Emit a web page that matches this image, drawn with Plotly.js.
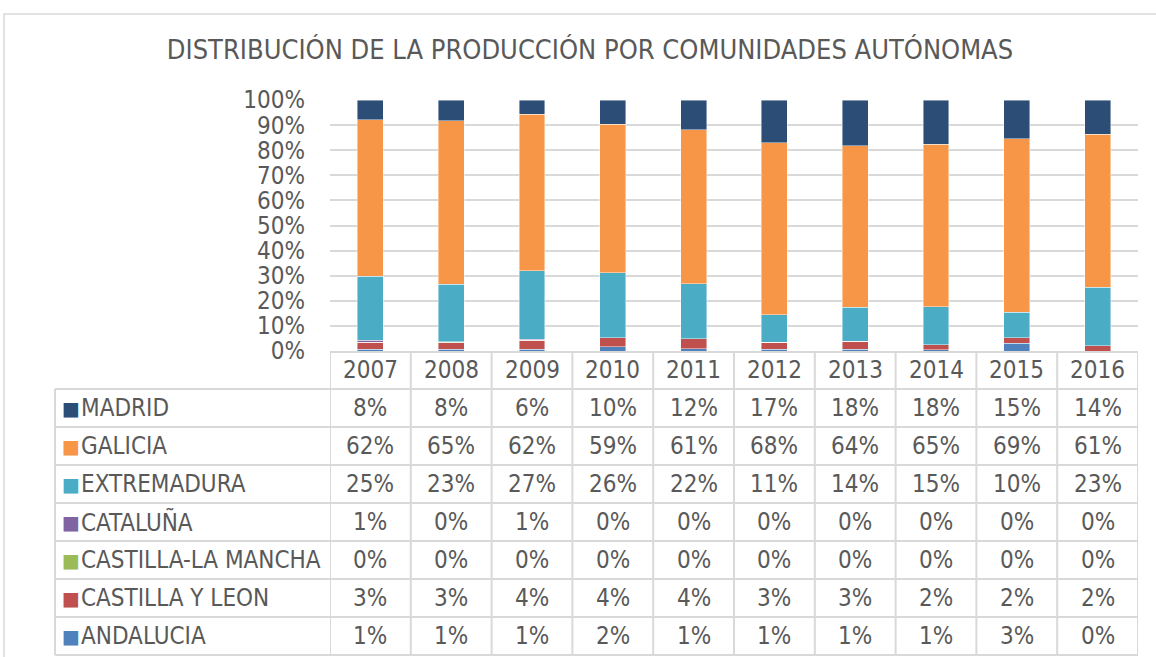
<!DOCTYPE html>
<html>
<head>
<meta charset="utf-8">
<script src="https://cdn.plot.ly/plotly-3.0.1.min.js"></script>
<style>
  html, body { margin: 0; padding: 0; background: #ffffff; }
  #chart { width: 1156px; height: 657px; }
</style>
</head>
<body>
<div id="chart"></div>
<script>
// ---- Data ----
const years = ['2007', '2008', '2009', '2010', '2011', '2012', '2013', '2014', '2015', '2016'];
const seriesNames = ['MADRID', 'GALICIA', 'EXTREMADURA', 'CATALUÑA', 'CASTILLA-LA MANCHA', 'CASTILLA Y LEON', 'ANDALUCIA'];
const madrid      = [7.9, 8.2, 5.6, 9.6, 11.9, 17.1, 18.3, 17.6, 15.4, 13.6];
const galicia     = [62.4, 65.2, 62.4, 59.2, 61.4, 68.4, 64.2, 64.8, 69.2, 61.0];
const extremadura = [25.4, 22.9, 27.25, 26.0, 21.8, 11.0, 13.6, 15.05, 10.1, 23.3];
const cataluna    = [0.8, 0.3, 0.55, 0, 0, 0, 0, 0, 0, 0];
const clm         = [0.1, 0.1, 0, 0, 0, 0, 0, 0, 0, 0];
const cyl         = [2.7, 2.7, 3.6, 3.6, 4.1, 2.9, 3.3, 2.0, 2.3, 2.1];
const andalucia   = [0.7, 0.6, 0.6, 1.6, 0.8, 0.6, 0.6, 0.55, 3.0, 0];
const yTicks = [0, 10, 20, 30, 40, 50, 60, 70, 80, 90, 100];

// ---- Styles ----
const colors = ['#2C4D76', '#F79646', '#4BACC6', '#8064A2', '#9BBB59', '#C0504D', '#4F81BD'];
const seriesValues = [madrid, galicia, extremadura, cataluna, clm, cyl, andalucia];
const FONT = '"DejaVu Sans Condensed", "DejaVu Sans", sans-serif';
const TXT = '#595959';
const GRID = '#D9D9D9';
const W = 1156, H = 657;
const FS = 24;

// layout geometry (pixels)
const xL = 55, xAxisL = 330, xR = 1138, yPlotTop = 100, yAxis = 351, rowH = 38;
const headerBottom = yAxis + rowH;
const py = p => 1 - p / H;   // pixel row -> paper fraction
const px = p => p / W;       // pixel column -> paper fraction

// stacked bars, bottom to top: Andalucia ... Madrid
const traces = [];
for (let i = seriesNames.length - 1; i >= 0; i--) {
  traces.push({
    type: 'bar',
    name: seriesNames[i],
    x: years,
    y: seriesValues[i],
    marker: { color: colors[i], line: { color: 'rgba(255,255,255,0.55)', width: 0.8 } },
    hoverinfo: 'x+y+name'
  });
}

// ---- data table drawn with shapes + annotations ----
const lineStyle = { color: GRID, width: 2 };
const shapes = [];
const annotations = [];
const tableBottom = headerBottom + rowH * seriesNames.length;

// horizontal rules
for (let r = 0; r <= seriesNames.length; r++) {
  const yy = headerBottom + r * rowH;
  shapes.push({ type: 'line', xref: 'paper', yref: 'paper', x0: px(xL), x1: px(xR), y0: py(yy), y1: py(yy), line: lineStyle });
}
// left edge of label column
shapes.push({ type: 'line', xref: 'paper', yref: 'paper', x0: px(xL), x1: px(xL), y0: py(headerBottom), y1: py(tableBottom), line: lineStyle });
// column separators aligned with the category axis
for (let j = 0; j <= years.length; j++) {
  shapes.push({ type: 'line', xref: 'x', yref: 'paper', x0: j - 0.5, x1: j - 0.5, y0: py(yAxis), y1: py(tableBottom), line: lineStyle });
}
// year header (category index positions on the x axis)
years.forEach((y, j) => {
  annotations.push({ xref: 'x', yref: 'paper', x: j, y: py(yAxis + rowH / 2), text: y, showarrow: false,
    xanchor: 'center', yanchor: 'middle', font: { family: FONT, size: FS, color: TXT } });
});
// rows
seriesNames.forEach((name, i) => {
  const cy = py(headerBottom + rowH * i + rowH / 2);
  annotations.push({ xref: 'paper', yref: 'paper', x: px(60), y: cy, text: '■', showarrow: false,
    xanchor: 'left', yanchor: 'middle', font: { family: 'DejaVu Sans, sans-serif', size: 19, color: colors[i] } });
  annotations.push({ xref: 'paper', yref: 'paper', x: px(79), y: cy, text: name, showarrow: false,
    xanchor: 'left', yanchor: 'middle', font: { family: FONT, size: FS, color: TXT } });
  years.forEach((y, j) => {
    annotations.push({ xref: 'x', yref: 'paper', x: j, y: cy, text: Math.round(seriesValues[i][j]) + '%', showarrow: false,
      xanchor: 'center', yanchor: 'middle', font: { family: FONT, size: FS, color: TXT } });
  });
});
// outer chart frame
shapes.push({ type: 'rect', xref: 'paper', yref: 'paper', x0: px(4), x1: 1.01, y0: -0.01, y1: py(14),
  line: { color: GRID, width: 1.5 }, fillcolor: 'rgba(0,0,0,0)', layer: 'below' });

const layout = {
  width: W, height: H,
  margin: { l: 0, r: 0, t: 0, b: 0 },
  paper_bgcolor: '#ffffff',
  plot_bgcolor: '#ffffff',
  showlegend: false,
  barmode: 'stack',
  bargap: 0.68,
  font: { family: FONT, color: TXT },
  title: {
    text: 'DISTRIBUCIÓN DE LA PRODUCCIÓN POR COMUNIDADES AUTÓNOMAS',
    font: { family: FONT, size: 27, color: TXT },
    x: px(590), xanchor: 'center',
    y: py(50), yanchor: 'middle'
  },
  xaxis: {
    domain: [px(xAxisL), px(xR)],
    type: 'category',
    categoryarray: years,
    range: [-0.5, years.length - 0.5],
    autorange: false,
    showticklabels: false,
    ticks: '',
    showgrid: false,
    showline: true, linecolor: GRID, linewidth: 2,
    zeroline: false,
    fixedrange: true
  },
  yaxis: {
    domain: [py(yAxis), py(yPlotTop)],
    range: [0, 100],
    autorange: false,
    tickvals: yTicks,
    ticktext: yTicks.map(v => v + '%'),
    ticks: '',
    ticklabelstandoff: 24,
    tickfont: { family: FONT, size: FS, color: TXT },
    showgrid: true, gridcolor: GRID, gridwidth: 2,
    zeroline: false,
    showline: false,
    fixedrange: true
  },
  shapes: shapes,
  annotations: annotations
};

Plotly.newPlot('chart', traces, layout, { displayModeBar: false });
</script>
</body>
</html>
